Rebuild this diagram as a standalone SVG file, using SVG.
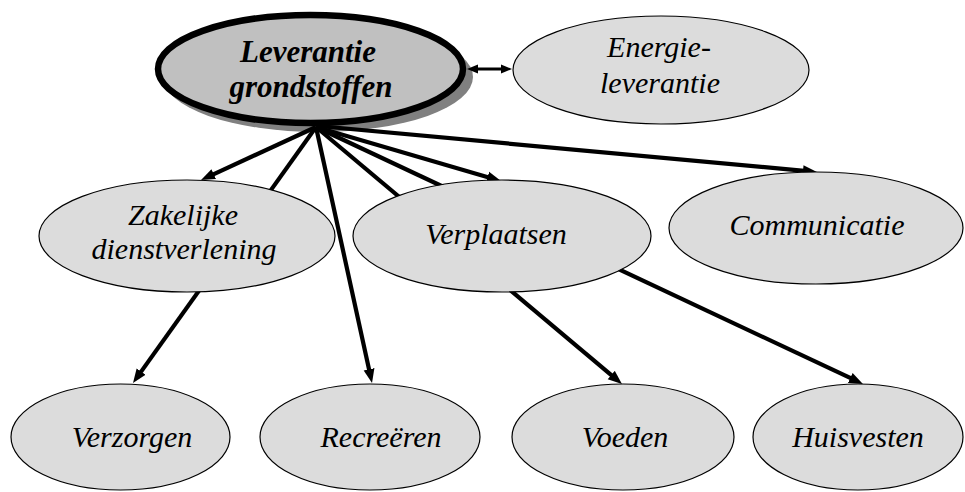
<svg xmlns="http://www.w3.org/2000/svg" width="965" height="492" viewBox="0 0 965 492">
  <defs>
    <marker id="head" markerUnits="userSpaceOnUse" markerWidth="16" markerHeight="12" refX="4" refY="6" orient="auto-start-reverse" viewBox="0 0 16 12">
      <path d="M0,0.5 L14,6 L0,11.5 Z" fill="#000"/>
    </marker>
    <marker id="headSmall" markerUnits="userSpaceOnUse" markerWidth="12" markerHeight="10" refX="3" refY="5" orient="auto-start-reverse" viewBox="0 0 12 10">
      <path d="M0,0.5 L11,5 L0,9.5 Z" fill="#000"/>
    </marker>
  </defs>
  <style>
    .node { fill: #dcdcdc; stroke: #000; stroke-width: 1.2; }
    .main { fill: #c0c0c0; stroke: #000; stroke-width: 6.5; }
    .shadow { fill: #808080; }
    .t { font-family: "Times New Roman", Times, "Liberation Serif", serif; font-style: italic; font-size: 30px; fill: #000; text-anchor: middle; }
    .bold { font-weight: bold; font-size: 31px; }
    .link { stroke: #000; stroke-width: 4.2; fill: none; marker-end: url(#head); }
    .both { stroke: #000; stroke-width: 3; fill: none; marker-start: url(#headSmall); marker-end: url(#headSmall); }
  </style>

  <rect width="965" height="492" fill="#fff"/>

  <!-- central node with drop shadow -->
  <g id="node-leverantie-grondstoffen">
    <ellipse class="shadow" cx="318" cy="77" rx="155" ry="55"/>
    <ellipse class="main" cx="310.5" cy="69" rx="152.5" ry="54"/>
    <text class="t bold" x="308" y="62">Leverantie</text>
    <text class="t bold" x="311" y="97">grondstoffen</text>
  </g>

  <!-- connectors -->
  <g id="connectors">
    <line class="both" x1="475" y1="69" x2="504" y2="69"/>
    <line class="link" x1="316" y1="127" x2="210.1" y2="175.8"/>
    <line class="link" x1="316" y1="127" x2="138.8" y2="374.9"/>
    <line class="link" x1="316" y1="127" x2="369.9" y2="373.2"/>
    <line class="link" x1="316" y1="127" x2="614.3" y2="377.6"/>
    <line class="link" x1="316" y1="127" x2="853.9" y2="379.7"/>
    <line class="link" x1="316" y1="127" x2="491.4" y2="178.2"/>
    <line class="link" x1="318" y1="126" x2="807" y2="171.1"/>
  </g>

  <g id="node-energieleverantie">
    <ellipse class="node" cx="661" cy="70" rx="148" ry="54"/>
    <text class="t" x="659" y="57">Energie-</text>
    <text class="t" x="660" y="93">leverantie</text>
  </g>

  <g id="node-zakelijke-dienstverlening">
    <ellipse class="node" cx="187" cy="236" rx="148" ry="56"/>
    <text class="t" x="183" y="225">Zakelijke</text>
    <text class="t" x="184" y="259">dienstverlening</text>
  </g>

  <g id="node-verplaatsen">
    <ellipse class="node" cx="502" cy="236" rx="149" ry="56"/>
    <text class="t" x="496" y="244">Verplaatsen</text>
  </g>

  <g id="node-communicatie">
    <ellipse class="node" cx="816" cy="228" rx="147" ry="56"/>
    <text class="t" x="817" y="235">Communicatie</text>
  </g>

  <g id="node-verzorgen">
    <ellipse class="node" cx="120.5" cy="437" rx="109.5" ry="53"/>
    <text class="t" x="132" y="447">Verzorgen</text>
  </g>

  <g id="node-recreeren">
    <ellipse class="node" cx="370" cy="437" rx="110" ry="53"/>
    <text class="t" x="381" y="447">Recreëren</text>
  </g>

  <g id="node-voeden">
    <ellipse class="node" cx="623" cy="437" rx="111" ry="53"/>
    <text class="t" x="625" y="447">Voeden</text>
  </g>

  <g id="node-huisvesten">
    <ellipse class="node" cx="858" cy="437" rx="105" ry="53"/>
    <text class="t" x="858" y="447">Huisvesten</text>
  </g>
</svg>
